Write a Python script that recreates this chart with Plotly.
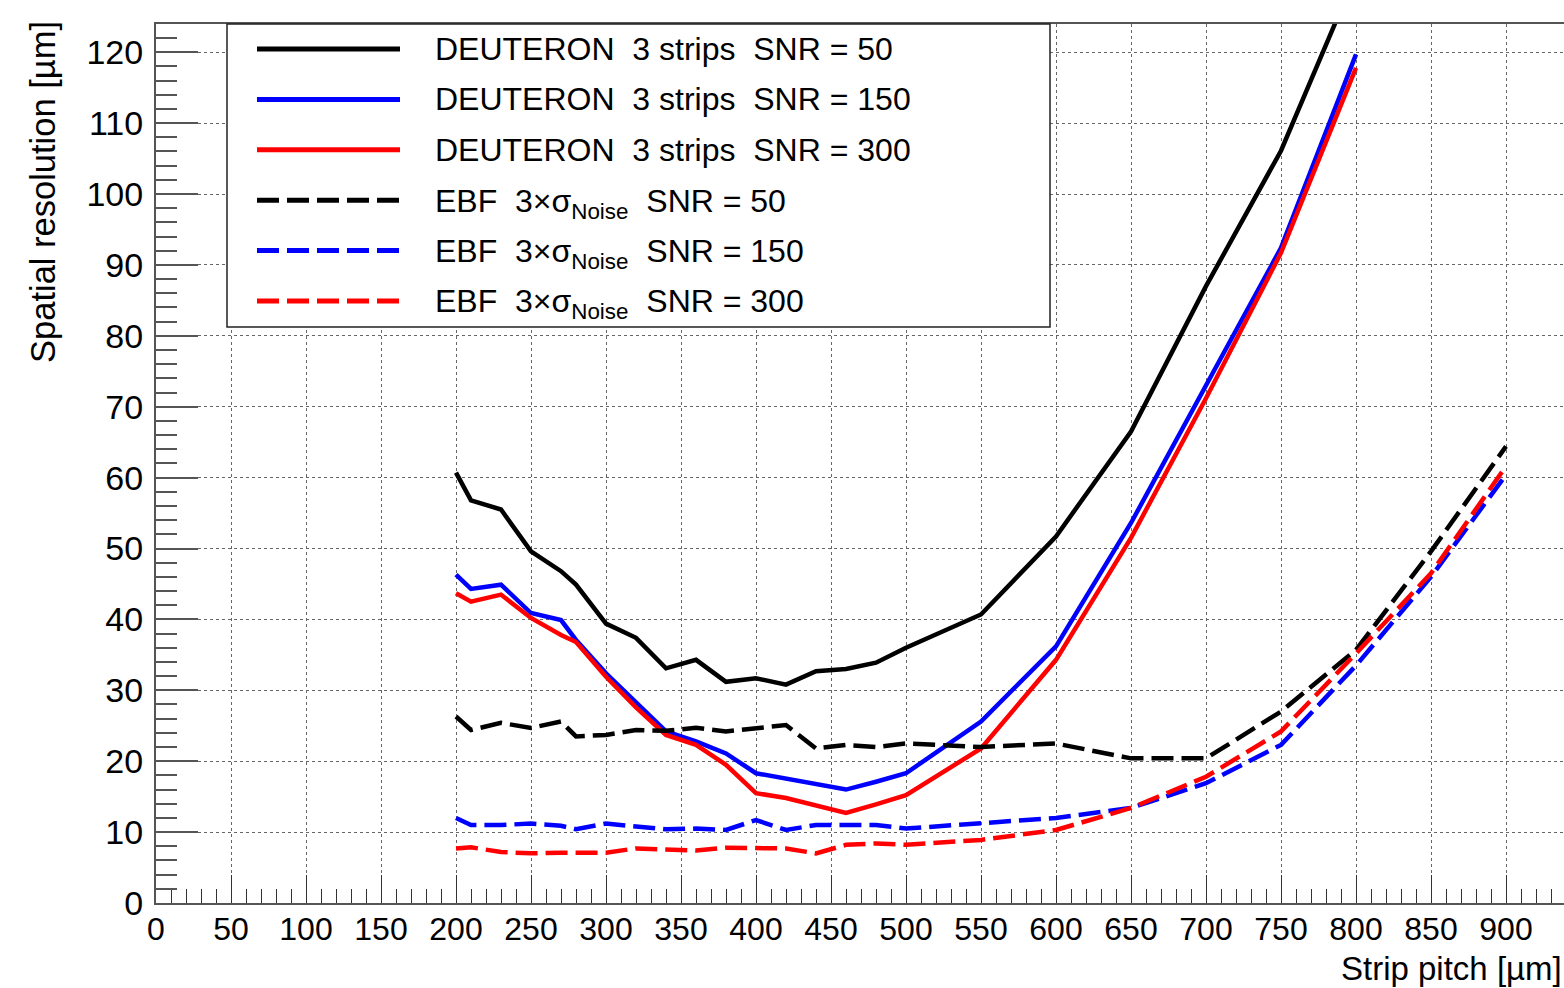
import plotly.graph_objects as go

# ---------------- data ----------------
pitch_deut = [200, 210, 230, 250, 270, 280, 300, 320, 340, 360, 380, 400, 420, 440,
              460, 480, 500, 550, 600, 650, 700, 750, 800]
pitch_ebf = [200, 210, 230, 250, 270, 280, 300, 320, 340, 360, 380, 400, 420, 440,
             460, 480, 500, 550, 600, 650, 700, 750, 800, 850, 900]

deut_snr50 = [60.7, 56.8, 55.5, 49.6, 46.8, 44.9, 39.4, 37.4, 33.1, 34.3, 31.2, 31.7, 30.8,
              32.7, 33.0, 33.9, 36.0, 40.7, 51.7, 66.5, 87.0, 106.1, 131.0]
deut_snr150 = [46.3, 44.3, 44.9, 40.9, 39.9, 37.1, 32.4, 28.2, 24.2, 22.8, 21.1, 18.3, 17.5,
               16.8, 16.0, 17.1, 18.3, 25.6, 36.2, 53.6, 72.9, 92.4, 119.7]
deut_snr300 = [43.7, 42.5, 43.5, 40.2, 37.8, 36.8, 31.9, 27.6, 23.7, 22.3, 19.5, 15.5, 14.8,
               13.8, 12.7, 13.9, 15.2, 21.8, 34.3, 51.5, 71.2, 91.7, 117.8]

ebf_snr50 = [26.3, 24.4, 25.4, 24.7, 25.6, 23.5, 23.7, 24.4, 24.3, 24.7, 24.2, 24.7, 25.1,
             21.8, 22.3, 22.0, 22.5, 22.0, 22.5, 20.4, 20.4, 27.0, 35.7, 49.6, 64.4]
ebf_snr150 = [12.0, 11.0, 11.0, 11.2, 10.9, 10.4, 11.2, 10.8, 10.4, 10.5, 10.3, 11.7, 10.3,
              11.0, 11.0, 11.0, 10.5, 11.3, 12.0, 13.4, 16.9, 22.3, 33.5, 46.0, 60.4]
ebf_snr300 = [7.7, 7.85, 7.2, 7.0, 7.1, 7.1, 7.1, 7.7, 7.5, 7.4, 7.8, 7.7, 7.7,
              7.0, 8.2, 8.4, 8.2, 8.9, 10.3, 13.4, 17.8, 24.2, 35.2, 46.5, 61.6]

legend_labels = [
    "DEUTERON\u00a0\u00a03 strips\u00a0\u00a0SNR = 50",
    "DEUTERON\u00a0\u00a03 strips\u00a0\u00a0SNR = 150",
    "DEUTERON\u00a0\u00a03 strips\u00a0\u00a0SNR = 300",
    "EBF\u00a0\u00a03\u00d7\u03c3<sub>Noise</sub>\u00a0\u00a0SNR = 50",
    "EBF\u00a0\u00a03\u00d7\u03c3<sub>Noise</sub>\u00a0\u00a0SNR = 150",
    "EBF\u00a0\u00a03\u00d7\u03c3<sub>Noise</sub>\u00a0\u00a0SNR = 300",
]
x_title = "Strip pitch [\u00b5m]"
y_title = "Spatial resolution [\u00b5m]"

# ---------------- style ----------------
FONT = "Liberation Sans, Arial, Helvetica, sans-serif"
LW = 4.5
DASH = "22px,8px"
series = [
    (pitch_deut, deut_snr50, "#000000", "solid"),
    (pitch_deut, deut_snr150, "#0000ff", "solid"),
    (pitch_deut, deut_snr300, "#ff0000", "solid"),
    (pitch_ebf, ebf_snr50, "#000000", DASH),
    (pitch_ebf, ebf_snr150, "#0000ff", DASH),
    (pitch_ebf, ebf_snr300, "#ff0000", DASH),
]

W, H = 1564, 988
L, R, T, B = 156, 0, 24, 85
PW, PH = W - L - R, H - T - B


def px2x(px):
    return (px - L) / PW


def px2y(py):
    return (H - B - py) / PH


fig = go.Figure()
for (xs, ys, col, dash), name in zip(series, legend_labels):
    fig.add_trace(go.Scatter(x=xs, y=ys, mode="lines", name=name,
                             line=dict(color=col, width=LW, dash=dash),
                             showlegend=False))

# custom ROOT-like legend
shapes = [dict(type="rect", xref="paper", yref="paper",
               x0=px2x(227), x1=px2x(1050), y0=px2y(327), y1=1.0,
               line=dict(color="#222", width=1.5), fillcolor="white", layer="above")]
annotations = []
row_y = [49, 99.4, 149.8, 200.2, 250.6, 301]
for (xs, ys, col, dash), label, ry in zip(series, legend_labels, row_y):
    shapes.append(dict(type="line", xref="paper", yref="paper",
                       x0=px2x(257), x1=px2x(400), y0=px2y(ry), y1=px2y(ry),
                       line=dict(color=col, width=LW + 0.5, dash=dash), layer="above"))
    is_sub = "<sub>" in label
    annotations.append(dict(text=label, xref="paper", yref="paper",
                            x=px2x(433), y=px2y(ry), xanchor="left", yanchor="middle",
                            yshift=-3 if is_sub else 0,
                            showarrow=False, font=dict(family=FONT, size=32, color="black")))

annotations.append(dict(text=x_title, xref="paper", yref="paper", x=1.0, y=px2y(968),
                        xanchor="right", yanchor="middle", showarrow=False,
                        font=dict(family=FONT, size=33, color="black")))
annotations.append(dict(text=y_title, xref="paper", yref="paper", x=px2x(43), y=px2y(192),
                        xanchor="center", yanchor="middle", textangle=-90, showarrow=False,
                        font=dict(family=FONT, size=34.5, color="black")))

fig.update_layout(
    width=W, height=H,
    margin=dict(l=L, r=R, t=T, b=B, pad=0),
    paper_bgcolor="white", plot_bgcolor="white",
    font=dict(family=FONT, color="black"),
    shapes=shapes, annotations=annotations,
    showlegend=False,
)
fig.update_xaxes(
    range=[0, PW / 1.5], tickmode="linear", tick0=0, dtick=50,
    ticks="inside", ticklen=28, tickwidth=1, tickcolor="#333",
    minor=dict(dtick=10, ticks="inside", ticklen=14, tickwidth=1, tickcolor="#333", showgrid=False),
    showgrid=True, gridcolor="#666", gridwidth=1, griddash="dot",
    showline=True, linecolor="#555", linewidth=2, mirror=True,
    zeroline=False, tickfont=dict(family=FONT, size=32, color="black"),
    ticklabelstandoff=-3,
)
fig.update_yaxes(
    range=[0, PH / 7.09], tickmode="linear", tick0=0, dtick=10,
    ticks="inside", ticklen=42, tickwidth=2, tickcolor="#555",
    minor=dict(dtick=2, ticks="inside", ticklen=21, tickwidth=2, tickcolor="#555", showgrid=False),
    showgrid=True, gridcolor="#666", gridwidth=1, griddash="dot",
    showline=True, linecolor="#555", linewidth=2,
    zeroline=False, tickfont=dict(family=FONT, size=34, color="black"),
    ticklabelstandoff=4,
)

fig.write_html("out.html",
               config={"displayModeBar": False},
               post_script="document.body.style.margin='0';"
                           "document.body.style.overflow='hidden';")
